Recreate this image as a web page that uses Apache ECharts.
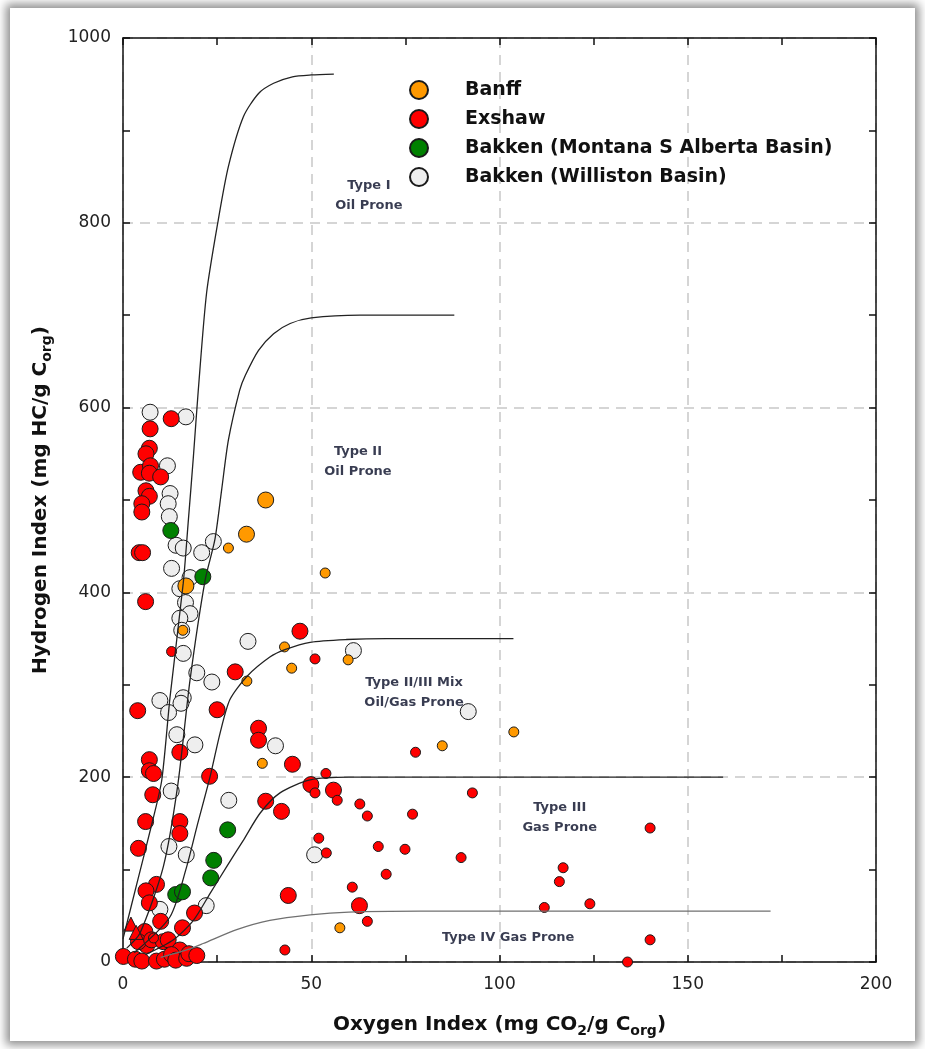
<!DOCTYPE html>
<html>
<head>
<meta charset="utf-8">
<script src="https://cdn.jsdelivr.net/npm/echarts@6/dist/echarts.min.js"></script>
<style>
  html, body { margin:0; padding:0; background:#ffffff; }
  #frame { position:absolute; left:10px; top:8px; width:905px; height:1033px; background:#fff;
           box-shadow: 0 0 9px 4px rgba(0,0,0,0.45); }
  #chart { position:absolute; left:0; top:0; width:925px; height:1049px; }
</style>
</head>
<body>
<div id="frame"></div>
<div id="chart"></div>
<script>
// ---------- data (Oxygen Index, Hydrogen Index) ----------
const seriesNames = ["Banff", "Exshaw", "Bakken (Montana S Alberta Basin)", "Bakken (Williston Basin)"];

const banffLarge = [[37.9,500],[32.8,463],[16.7,407]];
const banffSmall = [[28.0,448],[53.7,421],[42.9,341],[44.8,318],[59.8,327],[32.9,304],[37.0,215],
  [84.8,234],[103.8,249],[57.6,37],[15.9,359]];

const exshawLarge = [[12.8,588],[7.2,577],[7.0,556],[6.1,550],[4.7,530],[7.3,537],[7.0,529],[10.0,525],
  [6.1,510],[7.0,504],[5.0,496],[5.0,487],[4.3,443],[5.2,443],[6.0,390],[3.9,272],[25.0,273],[29.8,314],
  [47.0,358],[36.0,253],[36.0,240],[15.1,227],[7.0,219],[7.0,207],[8.1,204],[23.0,201],[45.0,214],
  [7.9,181],[6.0,152],[15.1,152],[15.1,139],[4.1,123],[49.9,192],[55.9,186],[37.9,174],[42.1,163],
  [43.9,72],[62.8,61],[8.9,84],[6.1,77],[7.0,64],[19.0,53],[10.0,44],[15.8,37],[5.8,33],[6.3,18],
  [4.1,22],[7.6,24],[10.7,22],[12.0,24],[15.1,13],[0.1,6],[3.3,3],[5.0,1],[8.9,1],[11.0,3],
  [12.9,8],[14.0,2],[16.9,4],[17.5,9],[19.6,7]];
const exshawSmall = [[12.9,336],[51.0,328],[77.7,227],[53.9,204],[51.0,183],[56.9,175],[62.9,171],
  [64.9,158],[76.9,160],[92.8,183],[52.0,134],[54.0,118],[67.8,125],[74.9,122],[89.8,113],[69.9,95],
  [60.9,81],[64.9,44],[43.0,13],[140.0,145],[116.9,102],[115.9,87],[111.9,59],[124.0,63],[140.0,24],
  [134.0,0],[8.1,26]];
const exshawTriangles = [[2.1,41],[3.5,32]];

const bakkenMontana = [[12.7,467],[21.2,417],[27.8,143],[24.1,110],[23.3,91],[14.0,73],[15.8,76]];

const bakkenWilliston = [[7.2,595],[16.7,590],[11.8,537],[12.5,507],[12.0,496],[12.3,482],[14.1,451],
  [16.0,448],[20.9,443],[24.0,455],[12.9,426],[17.8,416],[15.1,404],[16.6,389],[17.8,377],[15.1,372],
  [15.6,359],[16.0,334],[33.2,347],[61.2,337],[19.6,313],[23.6,303],[9.8,283],[16.0,286],[15.4,280],
  [12.1,270],[14.3,246],[19.1,235],[40.5,234],[91.7,271],[12.8,185],[28.1,175],[12.2,125],[16.8,116],
  [50.9,116],[22.1,61],[9.8,57]];

// kerogen type boundary curves
const curveTypeI = [[0,25],[4,90],[8,155],[10.3,197],[12.5,287],[16,410],[17.3,475],[18.7,547],[20,619],
  [22.2,724],[25.3,803],[28,861],[32,915],[36,940],[40,951],[45,958],[50,960],[56,961]];
const curveTypeII = [[1,15],[4.5,31],[10.7,103],[14.5,190],[17.8,305],[21.8,413],[24.4,457],[26.2,511],
  [28,565],[31,619],[32.5,635],[36,662],[40,680],[44.4,691],[50,697],[63,700],[88,700]];
const curveTypeIIIII = [[3,10],[12.5,49],[16.9,103],[19.6,146],[23.1,200],[25.8,248],[28.4,284],
  [32.9,309],[39,330],[43,338],[49.7,346],[59.4,349],[70,350],[103.7,350]];
const curveTypeIII = [[6,8],[13.4,24],[18.7,45],[23.1,74],[27.5,103],[32,132],[36.4,161],[41.7,183],
  [49.7,197],[60,200],[159.4,200]];
const curveTypeIV = [[10,5],[16.9,13],[21.3,20],[30.2,35],[39,45],[49.7,51],[60,54],[78.9,55],[172,55]];

const zoneLabels = ["Type I\nOil Prone", "Type II\nOil Prone", "Type II/III Mix\nOil/Gas Prone",
  "Type III\nGas Prone", "Type IV Gas Prone"];
const zoneLabelPos = [[65.3,829],[62.4,542],[77.3,291],[116,156],[102.3,26]];

// ---------- chart ----------
const FONT = "'DejaVu Sans', 'Liberation Sans', Arial, sans-serif";
const colors = { banff:'#FF9900', exshaw:'#FF0000', montana:'#008000', williston:'#EEEEEE' };
const LARGE = 16, SMALL = 10;

function pts(name, data, color, size, symbol) {
  return { type:'scatter', name:name, data:data, symbol: symbol || 'circle', symbolSize:size,
    itemStyle:{ color:color, borderColor:'#1a1a1a', borderWidth:1, opacity:1 },
    emphasis:{ disabled:true }, z:3 };
}
function curve(data, color) {
  return { type:'line', data:data, showSymbol:false, smooth:0.25, silent:true,
    lineStyle:{ color:color, width:1.3 }, z:4 };
}
const axisLineStyle = { color:'#111', width:1.5 };
const chart = echarts.init(document.getElementById('chart'), null, { renderer:'canvas' });

const titleStyle = { fontFamily:FONT, fontSize:20, fontWeight:'bold', color:'#111',
  rich:{ sub:{ fontFamily:FONT, fontSize:14, fontWeight:'bold', color:'#111', padding:[12,0,0,0] } } };

const option = {
  animation:false,
  backgroundColor:'transparent',
  grid:{ left:123, right:49, top:38, bottom:87, containLabel:false },
  legend:{
    data: seriesNames, orient:'vertical', left:404, top:75, itemWidth:18, itemHeight:18, itemGap:9,
    selectedMode:false,
    textStyle:{ fontFamily:FONT, fontSize:19, fontWeight:'bold', color:'#111', padding:[0,0,0,32] }
  },
  xAxis:[{
    type:'value', min:0, max:200, interval:50, position:'bottom',
    axisLine:{ show:true, onZero:false, lineStyle:axisLineStyle },
    axisTick:{ show:true, inside:true, length:7, lineStyle:axisLineStyle },
    minorTick:{ show:true, splitNumber:2, length:7, lineStyle:axisLineStyle },
    axisLabel:{ fontFamily:FONT, fontSize:17, color:'#222', margin:14, formatter:(v)=>String(v) },
    splitLine:{ show:true, lineStyle:{ color:'#c8c8c8', width:1.5, type:[10,7] } },
    name:'Oxygen Index (mg CO{sub|2}/g C{sub|org})', nameLocation:'middle', nameGap:50,
    nameTextStyle:titleStyle
  },{
    type:'value', min:0, max:200, interval:50, position:'top',
    axisLine:{ show:true, onZero:false, lineStyle:axisLineStyle },
    axisTick:{ show:true, inside:true, length:7, lineStyle:axisLineStyle },
    minorTick:{ show:true, splitNumber:2, length:7, lineStyle:axisLineStyle },
    axisLabel:{ show:false }, splitLine:{ show:false }
  }],
  yAxis:[{
    type:'value', min:0, max:1000, interval:200, position:'left',
    axisLine:{ show:true, onZero:false, lineStyle:axisLineStyle },
    axisTick:{ show:true, inside:true, length:7, lineStyle:axisLineStyle },
    minorTick:{ show:true, splitNumber:2, length:7, lineStyle:axisLineStyle },
    axisLabel:{ fontFamily:FONT, fontSize:17, color:'#222', margin:12, formatter:(v)=>String(v) },
    splitLine:{ show:true, lineStyle:{ color:'#c8c8c8', width:1.5, type:[10,7] } },
    name:'Hydrogen Index (mg HC/g C{sub|org})', nameLocation:'middle', nameGap:69, nameRotate:90,
    nameTextStyle:titleStyle
  },{
    type:'value', min:0, max:1000, interval:200, position:'right',
    axisLine:{ show:true, onZero:false, lineStyle:axisLineStyle },
    axisTick:{ show:true, inside:true, length:7, lineStyle:axisLineStyle },
    minorTick:{ show:true, splitNumber:2, length:7, lineStyle:axisLineStyle },
    axisLabel:{ show:false }, splitLine:{ show:false }
  }],
  series:[
    curve(curveTypeI, '#222'),
    curve(curveTypeII, '#222'),
    curve(curveTypeIIIII, '#222'),
    curve(curveTypeIII, '#222'),
    curve(curveTypeIV, '#707070'),
    pts(seriesNames[3], bakkenWilliston, colors.williston, LARGE),
    pts(seriesNames[1], exshawLarge, colors.exshaw, LARGE),
    pts(seriesNames[0], banffLarge, colors.banff, LARGE),
    pts(seriesNames[2], bakkenMontana, colors.montana, LARGE),
    pts(seriesNames[1], exshawSmall, colors.exshaw, SMALL),
    pts(seriesNames[0], banffSmall, colors.banff, SMALL),
    pts('Exshaw triangles', exshawTriangles, colors.exshaw, 14, 'triangle'),
    { type:'scatter', silent:true, symbolSize:0, z:5,
      data: zoneLabels.map((t,i)=>({ name:t, value:zoneLabelPos[i] })),
      label:{ show:true, position:'inside', formatter:(p)=>p.name, fontFamily:FONT, fontSize:13,
        fontWeight:'bold', color:'#060b26', lineHeight:20, align:'center' } }
  ]
};
chart.setOption(option);
</script>
</body>
</html>
